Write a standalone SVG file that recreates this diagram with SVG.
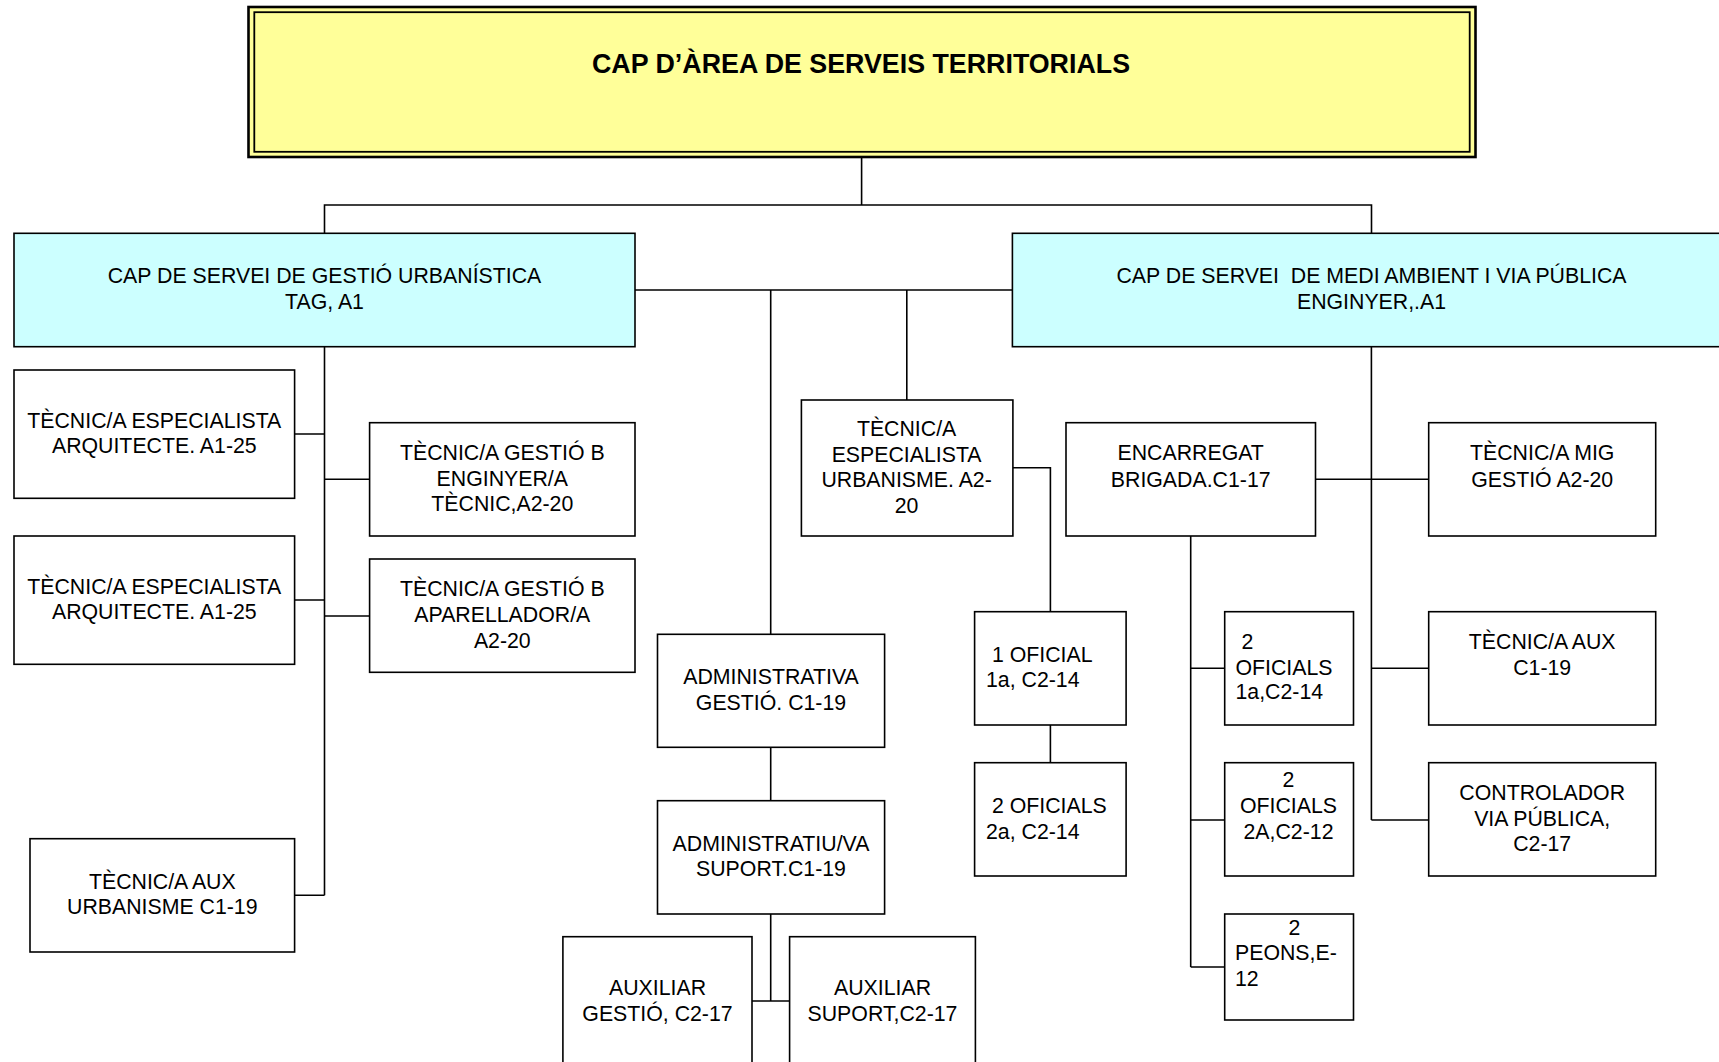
<svg xmlns="http://www.w3.org/2000/svg" width="1719" height="1062" viewBox="0 0 1719 1062">
<style>
.bx{fill:#ffffff;stroke:#000;stroke-width:1.6}
.cy{fill:#ccffff;stroke:#000;stroke-width:1.6}
.t{font-family:"Liberation Sans",Arial,sans-serif;font-size:21.3px;fill:#000}
.c{text-anchor:middle}
.ttl{font-family:"Liberation Sans",Arial,sans-serif;font-size:26.8px;font-weight:bold;fill:#000;text-anchor:middle}
#connectors path{fill:none;stroke:#000;stroke-width:1.6}
</style>
<rect width="1719" height="1062" fill="#ffffff"/>
<g id="connectors">
<path d="M861.6,157 V205 M324.5,233.3 V205 H1371.5 V233.3"/>
<path d="M324.5,346.7 V895.3 M294.6,434 H324.5 M294.6,600 H324.5 M294.6,895.3 H324.5 M324.5,479.3 H369.6 M324.5,616 H369.6"/>
<path d="M635,290 H1012.4 M770.7,290 V634.3 M906.8,290 V400"/>
<path d="M770.7,747.3 V800.7 M770.7,914 V1001 M752,1001 H789.6"/>
<path d="M1012.9,467.7 H1050.4 V611.7 M1050.4,725 V762.7"/>
<path d="M1371.4,346.7 V820 M1315.5,479.3 H1428.7 M1371.4,668.3 H1428.7 M1371.4,820 H1428.7"/>
<path d="M1190.7,536 V967 M1190.7,668.3 H1224.7 M1190.7,820 H1224.7 M1190.7,967 H1224.7"/>
</g>
<g id="n-top">
<rect x="248.5" y="7" width="1227" height="150" fill="#ffff99" stroke="#000" stroke-width="2.6"/>
<rect x="254.3" y="12.2" width="1215.4" height="139.6" fill="none" stroke="#000" stroke-width="1.8"/>
<text class="ttl" x="861" y="73.3">CAP D’ÀREA DE SERVEIS TERRITORIALS</text>
</g>
<g id="n-gu">
<rect class="cy" x="14" y="233.3" width="621" height="113.4"/>
<text class="t c" x="324.5" y="283.3">CAP DE SERVEI DE GESTIÓ URBANÍSTICA</text>
<text class="t c" x="324.5" y="309.3">TAG, A1</text>
</g>
<g id="n-ma">
<rect class="cy" x="1012.4" y="233.3" width="730" height="113.4"/>
<text class="t c" x="1371.5" y="283.3" xml:space="preserve">CAP DE SERVEI  DE MEDI AMBIENT I VIA PÚBLICA</text>
<text class="t c" x="1371.5" y="309.3">ENGINYER,.A1</text>
</g>
<g id="n-esp1">
<rect class="bx" x="14" y="370" width="280.6" height="128.3"/>
<text class="t c" x="154.3" y="428.3">TÈCNIC/A ESPECIALISTA</text>
<text class="t c" x="154.3" y="453.3">ARQUITECTE. A1-25</text>
</g>
<g id="n-esp2">
<rect class="bx" x="14" y="536" width="280.6" height="128.3"/>
<text class="t c" x="154.3" y="593.5">TÈCNIC/A ESPECIALISTA</text>
<text class="t c" x="154.3" y="619">ARQUITECTE. A1-25</text>
</g>
<g id="n-eng">
<rect class="bx" x="369.6" y="422.7" width="265.4" height="113.3"/>
<text class="t c" x="502.3" y="460">TÈCNIC/A GESTIÓ B</text>
<text class="t c" x="502.3" y="485.5">ENGINYER/A</text>
<text class="t c" x="502.3" y="511">TÈCNIC,A2-20</text>
</g>
<g id="n-apar">
<rect class="bx" x="369.6" y="559" width="265.4" height="113.3"/>
<text class="t c" x="502.3" y="596">TÈCNIC/A GESTIÓ B</text>
<text class="t c" x="502.3" y="622">APARELLADOR/A</text>
<text class="t c" x="502.3" y="647.5">A2-20</text>
</g>
<g id="n-auxurb">
<rect class="bx" x="30" y="838.7" width="264.6" height="113.3"/>
<text class="t c" x="162.3" y="889">TÈCNIC/A AUX</text>
<text class="t c" x="162.3" y="914">URBANISME C1-19</text>
</g>
<g id="n-espurb">
<rect class="bx" x="801.4" y="400" width="211.5" height="136"/>
<text class="t c" x="906.6" y="436">TÈCNIC/A</text>
<text class="t c" x="906.6" y="461.5">ESPECIALISTA</text>
<text class="t c" x="906.6" y="487">URBANISME. A2-</text>
<text class="t c" x="906.6" y="512.5">20</text>
</g>
<g id="n-admin">
<rect class="bx" x="657.5" y="634.3" width="227.1" height="113"/>
<text class="t c" x="771" y="684">ADMINISTRATIVA</text>
<text class="t c" x="771" y="710">GESTIÓ. C1-19</text>
</g>
<g id="n-admsup">
<rect class="bx" x="657.5" y="800.7" width="227.1" height="113.3"/>
<text class="t c" x="771" y="851">ADMINISTRATIU/VA</text>
<text class="t c" x="771" y="876">SUPORT.C1-19</text>
</g>
<g id="n-auxges">
<rect class="bx" x="562.9" y="936.7" width="189.1" height="140"/>
<text class="t c" x="657.5" y="995">AUXILIAR</text>
<text class="t c" x="657.5" y="1021">GESTIÓ, C2-17</text>
</g>
<g id="n-auxsup">
<rect class="bx" x="789.6" y="936.7" width="185.8" height="140"/>
<text class="t c" x="882.5" y="995">AUXILIAR</text>
<text class="t c" x="882.5" y="1021">SUPORT,C2-17</text>
</g>
<g id="n-of1">
<rect class="bx" x="974.6" y="611.7" width="151.5" height="113.3"/>
<text class="t" x="986" y="662" xml:space="preserve"> 1 OFICIAL</text>
<text class="t" x="986" y="686.5">1a, C2-14</text>
</g>
<g id="n-of2">
<rect class="bx" x="974.6" y="762.7" width="151.5" height="113.3"/>
<text class="t" x="986" y="813.3" xml:space="preserve"> 2 OFICIALS</text>
<text class="t" x="986" y="839">2a, C2-14</text>
</g>
<g id="n-enc">
<rect class="bx" x="1066" y="422.7" width="249.5" height="113.3"/>
<text class="t c" x="1190.7" y="460">ENCARREGAT</text>
<text class="t c" x="1190.7" y="486.5">BRIGADA.C1-17</text>
</g>
<g id="n-mig">
<rect class="bx" x="1428.7" y="422.7" width="227" height="113.3"/>
<text class="t c" x="1542.2" y="460">TÈCNIC/A MIG</text>
<text class="t c" x="1542.2" y="486.5">GESTIÓ A2-20</text>
</g>
<g id="n-of1a">
<rect class="bx" x="1224.7" y="611.7" width="128.8" height="113.3"/>
<text class="t" x="1235.5" y="649.3" xml:space="preserve"> 2</text>
<text class="t" x="1235.5" y="675">OFICIALS</text>
<text class="t" x="1235.5" y="699">1a,C2-14</text>
</g>
<g id="n-of2a">
<rect class="bx" x="1224.7" y="762.7" width="128.8" height="113.3"/>
<text class="t c" x="1288.5" y="786.7">2</text>
<text class="t c" x="1288.5" y="813.3">OFICIALS</text>
<text class="t c" x="1288.5" y="839">2A,C2-12</text>
</g>
<g id="n-peons">
<rect class="bx" x="1224.7" y="914" width="128.8" height="106"/>
<text class="t c" x="1294.4" y="935">2</text>
<text class="t" x="1235" y="960">PEONS,E-</text>
<text class="t" x="1235" y="985.7">12</text>
</g>
<g id="n-aux">
<rect class="bx" x="1428.7" y="611.7" width="227" height="113.3"/>
<text class="t c" x="1542.2" y="648.5">TÈCNIC/A AUX</text>
<text class="t c" x="1542.2" y="675">C1-19</text>
</g>
<g id="n-ctrl">
<rect class="bx" x="1428.7" y="762.7" width="227" height="113.3"/>
<text class="t c" x="1542.2" y="800">CONTROLADOR</text>
<text class="t c" x="1542.2" y="825.7">VIA PÚBLICA,</text>
<text class="t c" x="1542.2" y="850.7">C2-17</text>
</g>
</svg>
